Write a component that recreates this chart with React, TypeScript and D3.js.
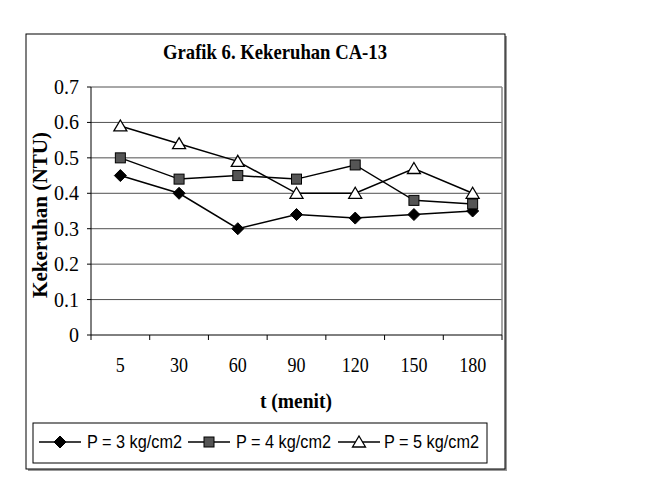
import * as d3 from "d3";
import React from "react";

const categories = ["5", "30", "60", "90", "120", "150", "180"];
const p3 = [0.45, 0.4, 0.3, 0.34, 0.33, 0.34, 0.35];
const p4 = [0.5, 0.44, 0.45, 0.44, 0.48, 0.38, 0.37];
const p5 = [0.59, 0.54, 0.49, 0.4, 0.4, 0.47, 0.4];
const yTicks = [0, 0.1, 0.2, 0.3, 0.4, 0.5, 0.6, 0.7];
const seriesNames = ["P = 3 kg/cm2", "P = 4 kg/cm2", "P = 5 kg/cm2"];

const W = 649;
const H = 495;
const PLOT = { left: 91, right: 502, top: 87, bottom: 335 };
const SERIF = "'Liberation Serif', 'Times New Roman', serif";
const SANS = "'Liberation Sans', Arial, sans-serif";

type Shape = "diamond" | "square" | "triangle";

const Marker = ({ x, y, shape }: { x: number; y: number; shape: Shape }) => {
  if (shape === "diamond") {
    return (
      <path
        d={`M${x},${y - 6}L${x + 6},${y}L${x},${y + 6}L${x - 6},${y}Z`}
        fill="#000"
        stroke="#000"
        strokeWidth={1}
      />
    );
  }
  if (shape === "square") {
    return (
      <rect
        x={x - 5}
        y={y - 5}
        width={10}
        height={10}
        fill="#555"
        stroke="#000"
        strokeWidth={1}
      />
    );
  }
  return (
    <path
      d={`M${x},${y - 6}L${x + 6.5},${y + 5}L${x - 6.5},${y + 5}Z`}
      fill="#fff"
      stroke="#000"
      strokeWidth={1.3}
    />
  );
};

export default function App() {
  const x = d3
    .scaleBand<string>()
    .domain(categories)
    .range([PLOT.left, PLOT.right])
    .paddingInner(0)
    .paddingOuter(0);
  const y = d3.scaleLinear().domain([0, 0.7]).range([PLOT.bottom, PLOT.top]);
  const cx = (c: string) => (x(c) ?? 0) + x.bandwidth() / 2;

  const line = d3
    .line<number>()
    .x((_, i) => cx(categories[i]))
    .y((d) => y(d));

  const series: { values: number[]; shape: Shape }[] = [
    { values: p3, shape: "diamond" },
    { values: p4, shape: "square" },
    { values: p5, shape: "triangle" },
  ];

  // legend positions
  const legendItems = [
    { lx: 39, tx: 87 },
    { lx: 188, tx: 236 },
    { lx: 338, tx: 384 },
  ];
  const legendY = 442;

  return (
    <svg
      width={W}
      height={H}
      style={{ position: "absolute", left: 0, top: 0, background: "#fff" }}
    >
      {/* outer chart frame with shadow */}
      <rect x={28} y={36} width={479} height={435} fill="#999" />
      <rect x={26} y={34} width={479} height={435} fill="#fff" stroke="#000" strokeWidth={1} />

      {/* title */}
      <text
        x={275}
        y={59}
        textAnchor="middle"
        fontFamily={SERIF}
        fontWeight="bold"
        fontSize={22}
        textLength={224}
        lengthAdjust="spacingAndGlyphs"
      >
        Grafik 6. Kekeruhan CA-13
      </text>

      {/* gridlines */}
      {yTicks.slice(1).map((t) => (
        <line
          key={t}
          x1={PLOT.left}
          x2={PLOT.right}
          y1={y(t)}
          y2={y(t)}
          stroke="#505050"
          strokeWidth={1}
        />
      ))}
      <line x1={PLOT.right} x2={PLOT.right} y1={PLOT.top} y2={PLOT.bottom} stroke="#888" strokeWidth={1.5} />

      {/* y axis */}
      <line x1={PLOT.left} x2={PLOT.left} y1={PLOT.top} y2={PLOT.bottom} stroke="#000" strokeWidth={1} />
      {yTicks.map((t) => {
        const label = t === 0 ? "0" : d3.format(".1f")(t);
        return (
          <g key={t}>
            <line x1={PLOT.left - 4} x2={PLOT.left} y1={y(t)} y2={y(t)} stroke="#000" />
            <text
              x={79}
              y={y(t) + 7}
              textAnchor="end"
              fontFamily={SERIF}
              fontSize={21}
              textLength={label.length === 1 ? 10 : 25}
              lengthAdjust="spacingAndGlyphs"
            >
              {label}
            </text>
          </g>
        );
      })}

      {/* x axis */}
      <line x1={PLOT.left} x2={PLOT.right} y1={PLOT.bottom} y2={PLOT.bottom} stroke="#000" strokeWidth={1} />
      {[...categories.map((c) => x(c) ?? 0), PLOT.right].map((v, i) => (
        <line key={i} x1={v} x2={v} y1={PLOT.bottom} y2={PLOT.bottom + 5} stroke="#000" />
      ))}
      {categories.map((c) => (
        <text
          key={c}
          x={cx(c)}
          y={372}
          textAnchor="middle"
          fontFamily={SERIF}
          fontSize={22}
          textLength={c.length * 9}
          lengthAdjust="spacingAndGlyphs"
        >
          {c}
        </text>
      ))}

      {/* axis titles */}
      <text
        x={296}
        y={408}
        textAnchor="middle"
        fontFamily={SERIF}
        fontWeight="bold"
        fontSize={20}
        textLength={72}
        lengthAdjust="spacingAndGlyphs"
      >
        t (menit)
      </text>
      <text
        transform="translate(47,215) rotate(-90)"
        textAnchor="middle"
        fontFamily={SERIF}
        fontWeight="bold"
        fontSize={20}
        textLength={166}
        lengthAdjust="spacingAndGlyphs"
      >
        Kekeruhan (NTU)
      </text>

      {/* series */}
      {series.map((s, si) => (
        <g key={si}>
          <path d={line(s.values) ?? ""} fill="none" stroke="#000" strokeWidth={1.5} />
          {s.values.map((v, i) => (
            <Marker key={i} x={cx(categories[i])} y={y(v)} shape={s.shape} />
          ))}
        </g>
      ))}

      {/* legend */}
      <rect x={33} y={423} width={454} height={40} fill="#fff" stroke="#000" strokeWidth={1} />
      {series.map((s, i) => (
        <g key={i}>
          <line
            x1={legendItems[i].lx}
            x2={legendItems[i].lx + 42}
            y1={legendY}
            y2={legendY}
            stroke="#000"
            strokeWidth={1.5}
          />
          <Marker x={legendItems[i].lx + 21} y={legendY} shape={s.shape} />
          <text
            x={legendItems[i].tx}
            y={448}
            fontFamily={SANS}
            fontSize={17.5}
            textLength={95}
            lengthAdjust="spacingAndGlyphs"
          >
            {seriesNames[i]}
          </text>
        </g>
      ))}
    </svg>
  );
}
